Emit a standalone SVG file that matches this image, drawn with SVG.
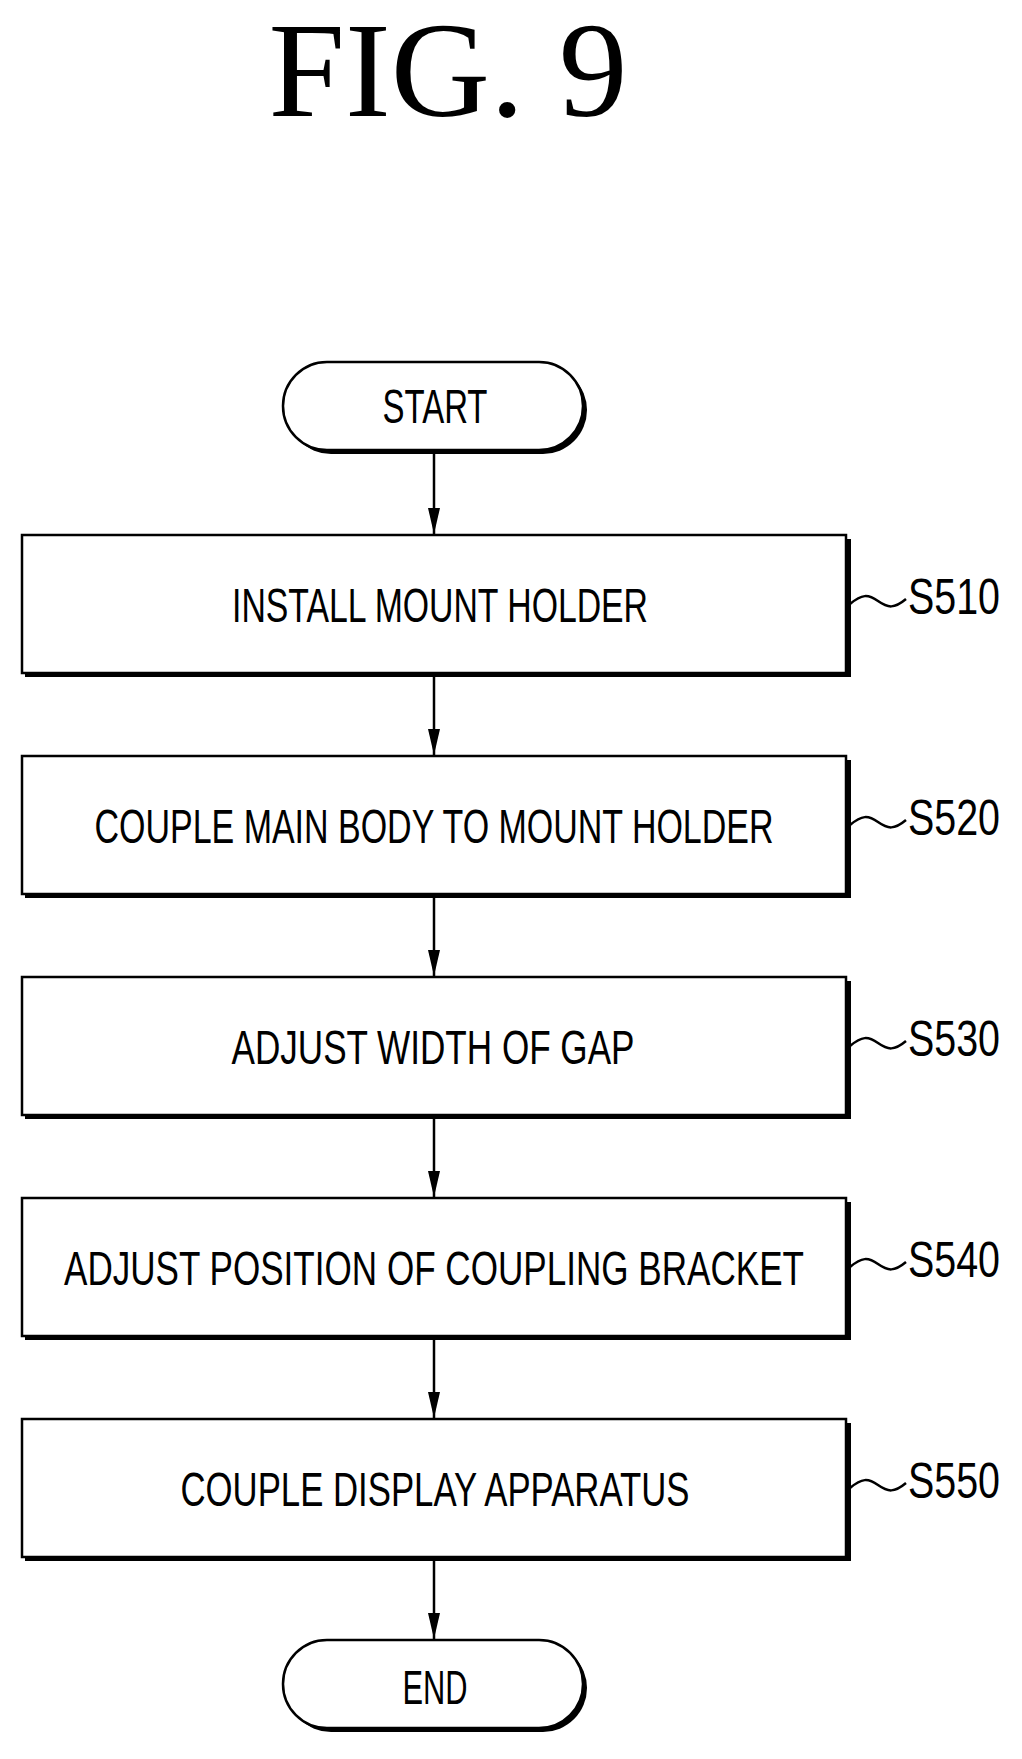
<svg xmlns="http://www.w3.org/2000/svg" width="1022" height="1759" viewBox="0 0 1022 1759">
<style>
.b{fill:#fff;stroke:#000;stroke-width:2.5}
.s{fill:#000}
.t{font-family:"Liberation Sans",sans-serif;font-size:48px;text-anchor:middle;fill:#000}
.l{font-family:"Liberation Sans",sans-serif;font-size:50px;fill:#000}
.c{stroke:#000;stroke-width:2.5;fill:none}
</style>
<defs><marker id="a" viewBox="0 0 26 12" refX="26" refY="6" markerWidth="26" markerHeight="12" markerUnits="userSpaceOnUse" orient="auto"><path d="M0,0 L26,6 L0,12 Z" fill="#000"/></marker></defs>
<text x="448" y="116" font-family="Liberation Serif,serif" font-size="136" text-anchor="middle" textLength="359" lengthAdjust="spacingAndGlyphs">FIG. 9</text>
<g id="connectors">
<path class="c" d="M434 451V534" marker-end="url(#a)"/>
<path class="c" d="M434 676V755" marker-end="url(#a)"/>
<path class="c" d="M434 897V976" marker-end="url(#a)"/>
<path class="c" d="M434 1118V1197" marker-end="url(#a)"/>
<path class="c" d="M434 1339V1418" marker-end="url(#a)"/>
<path class="c" d="M434 1560V1639" marker-end="url(#a)"/>
</g>
<g id="start"><rect x="287" y="366" width="300" height="88" rx="44" class="s"/><rect x="283" y="362" width="300" height="88" rx="44" class="b"/><text class="t" x="435" y="423" textLength="105" lengthAdjust="spacingAndGlyphs">START</text></g>
<g id="s510"><rect x="25" y="539" width="826" height="138" class="s"/><rect x="22" y="535" width="824" height="138" class="b"/><text class="t" x="440" y="622" textLength="416" lengthAdjust="spacingAndGlyphs">INSTALL MOUNT HOLDER</text><path class="c" stroke-width="1.5" d="M850 604c12 -10 18 -10 28 -3s16 8 28 -2"/><text class="l" x="908" y="614" textLength="92" lengthAdjust="spacingAndGlyphs">S510</text></g>
<g id="s520"><rect x="25" y="760" width="826" height="138" class="s"/><rect x="22" y="756" width="824" height="138" class="b"/><text class="t" x="434" y="843" textLength="679" lengthAdjust="spacingAndGlyphs">COUPLE MAIN BODY TO MOUNT HOLDER</text><path class="c" stroke-width="1.5" d="M850 825c12 -10 18 -10 28 -3s16 8 28 -2"/><text class="l" x="908" y="835" textLength="92" lengthAdjust="spacingAndGlyphs">S520</text></g>
<g id="s530"><rect x="25" y="981" width="826" height="138" class="s"/><rect x="22" y="977" width="824" height="138" class="b"/><text class="t" x="433" y="1064" textLength="403" lengthAdjust="spacingAndGlyphs">ADJUST WIDTH OF GAP</text><path class="c" stroke-width="1.5" d="M850 1046c12 -10 18 -10 28 -3s16 8 28 -2"/><text class="l" x="908" y="1056" textLength="92" lengthAdjust="spacingAndGlyphs">S530</text></g>
<g id="s540"><rect x="25" y="1202" width="826" height="138" class="s"/><rect x="22" y="1198" width="824" height="138" class="b"/><text class="t" x="434" y="1285" textLength="740" lengthAdjust="spacingAndGlyphs">ADJUST POSITION OF COUPLING BRACKET</text><path class="c" stroke-width="1.5" d="M850 1267c12 -10 18 -10 28 -3s16 8 28 -2"/><text class="l" x="908" y="1277" textLength="92" lengthAdjust="spacingAndGlyphs">S540</text></g>
<g id="s550"><rect x="25" y="1423" width="826" height="138" class="s"/><rect x="22" y="1419" width="824" height="138" class="b"/><text class="t" x="435" y="1506" textLength="509" lengthAdjust="spacingAndGlyphs">COUPLE DISPLAY APPARATUS</text><path class="c" stroke-width="1.5" d="M850 1488c12 -10 18 -10 28 -3s16 8 28 -2"/><text class="l" x="908" y="1498" textLength="92" lengthAdjust="spacingAndGlyphs">S550</text></g>
<g id="end"><rect x="287" y="1644" width="300" height="88" rx="44" class="s"/><rect x="283" y="1640" width="300" height="88" rx="44" class="b"/><text class="t" x="435" y="1704" textLength="65" lengthAdjust="spacingAndGlyphs">END</text></g>
</svg>
